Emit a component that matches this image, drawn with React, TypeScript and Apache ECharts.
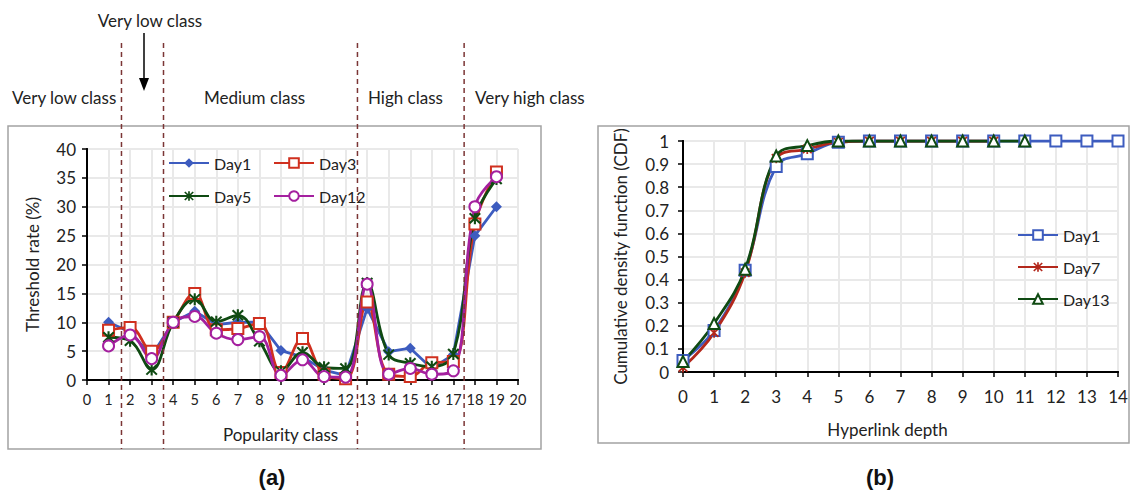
import React, { useEffect, useRef } from "react";
import * as echarts from "echarts";

// ---------- Data: chart (a) ----------
const popClasses = [1, 2, 3, 4, 5, 6, 7, 8, 9, 10, 11, 12, 13, 14, 15, 16, 17, 18, 19];
const day1A = [10, 8.3, 4.2, 10, 11.9, 9.6, 10, 10, 5.1, 4, 1.7, 0.8, 12.4, 4.9, 5.5, 2, 4.4, 25, 30];
const day3A = [8.6, 9.1, 5, 10, 15, 8.7, 8.9, 9.8, 1.3, 7.2, 1, 0.2, 13.5, 1, 0.6, 3, 3.2, 27, 36];
const day5A = [7.4, 6.8, 1.8, 10, 14, 10.1, 11.2, 6.7, 1.5, 4.8, 2.2, 2, 16.8, 4.4, 2.9, 2.3, 4.5, 28, 34.8];
const day12A = [5.9, 7.8, 3.7, 10, 11, 8.1, 7, 7.5, 0.8, 3.5, 0.6, 0.5, 16.6, 1, 2, 1, 1.6, 30, 35.2];
const classBoundaries = [1.6, 3.55, 12.55, 17.5];
const classLabels = ["Very low class", "Medium class", "High class", "Very high class"];
const classLabelX = [12, 204, 368, 475];

// ---------- Data: chart (b) ----------
const depthDay1 = [0, 1, 2, 3, 4, 5, 6, 7, 8, 9, 10, 11, 12, 13, 14];
const cdfDay1 = [0.05, 0.18, 0.44, 0.89, 0.945, 0.995, 1, 1, 1, 1, 1, 1, 1, 1, 1];
const depthDay7 = [0, 1, 2, 3, 4, 5, 6, 7, 8, 9, 10];
const cdfDay7 = [0.02, 0.17, 0.43, 0.925, 0.965, 0.995, 1, 1, 1, 1, 1];
const depthDay13 = [0, 1, 2, 3, 4, 5, 6, 7, 8, 9, 10, 11];
const cdfDay13 = [0.045, 0.21, 0.445, 0.935, 0.98, 1, 1, 1, 1, 1, 1, 1];

const FONT = "Lato";
const BLUE = "#3d5cbf";
const RED = "#d0301f";
const RED_B = "#b3281c";
const GREEN = "#0f4a12";
const PURPLE = "#a4209f";
const GRID_C = "#e9e9e9";
const SEP_C = "#7b3535";

const ASTERISK =
  "path://M5 0 L7 0 L7 12 L5 12 Z M0.3 1.7 L1.7 0.3 L11.7 10.3 L10.3 11.7 Z M10.3 0.3 L11.7 1.7 L1.7 11.7 L0.3 10.3 Z";

const pairs = (xs: number[], ys: number[]) => xs.map((x, i) => [x, ys[i]]);

export default function App() {
  const ref = useRef<HTMLDivElement>(null);
  useEffect(() => {
    document.body.style.margin = "0";
    const chart = echarts.init(ref.current!, null, { renderer: "svg" });

    const axisLineBlack = { show: true, lineStyle: { color: "#000", width: 2 } };
    const tickOut = { show: true, inside: false, length: 5, lineStyle: { color: "#000", width: 1.5 } };
    const split = { show: true, lineStyle: { color: GRID_C, width: 2 } };
    const hidden = {
      axisTick: { show: false },
      axisLabel: { show: false },
      splitLine: { show: false },
    };

    const legendBase = (name: string, left: number, top: number) => ({
      data: [name],
      left,
      top,
      itemWidth: 40,
      itemHeight: 12,
      itemGap: 4,
      textStyle: { fontFamily: FONT, fontSize: 16, color: "#222" },
    });

    const option: any = {
      animation: false,
      textStyle: { fontFamily: FONT },
      grid: [
        { left: 87, top: 149, width: 431, height: 231 },
        { left: 683, top: 141, width: 435, height: 231 },
      ],
      legend: [
        legendBase("Day1", 163, 150),
        legendBase("Day3", 268, 150),
        legendBase("Day5", 163, 183),
        legendBase("Day12", 268, 183),
        legendBase("Day1 ", 1012, 222),
        legendBase("Day7", 1012, 254),
        legendBase("Day13", 1012, 286),
      ],
      xAxis: [
        {
          gridIndex: 0, type: "value", min: 0, max: 20, interval: 1,
          axisLine: axisLineBlack, axisTick: tickOut,
          axisLabel: { fontFamily: FONT, fontSize: 14.5, color: "#222", margin: 12 },
          splitLine: split,
          name: "Popularity class", nameLocation: "middle", nameGap: 46,
          nameTextStyle: { fontFamily: FONT, fontSize: 17, color: "#222", padding: [0, 44, 0, 0] },
        },
        {
          gridIndex: 0, type: "value", min: 0, max: 20, position: "top",
          axisLine: { show: true, lineStyle: { color: "#000", width: 2, type: [12, 5] } },
          ...hidden,
        },
        {
          gridIndex: 1, type: "value", min: 0, max: 14, interval: 1,
          axisLine: axisLineBlack, axisTick: tickOut,
          axisLabel: { fontFamily: FONT, fontSize: 17, color: "#222", margin: 16 },
          splitLine: split,
          name: "Hyperlink depth", nameLocation: "middle", nameGap: 49,
          nameTextStyle: { fontFamily: FONT, fontSize: 17, color: "#222", padding: [0, 26, 0, 0] },
        },
        {
          gridIndex: 1, type: "value", min: 0, max: 14, position: "top",
          axisLine: axisLineBlack,
          ...hidden,
        },
      ],
      yAxis: [
        {
          gridIndex: 0, type: "value", min: 0, max: 40, interval: 5,
          axisLine: axisLineBlack, axisTick: tickOut,
          axisLabel: { fontFamily: FONT, fontSize: 17, color: "#222", margin: 11 },
          splitLine: split,
          name: "Threshold rate (%)", nameLocation: "middle", nameGap: 46,
          nameTextStyle: { fontFamily: FONT, fontSize: 17, color: "#222" },
        },
        {
          gridIndex: 0, type: "value", min: 0, max: 40, position: "right",
          axisLine: axisLineBlack,
          ...hidden,
        },
        {
          gridIndex: 1, type: "value", min: 0, max: 1, interval: 0.1,
          axisLine: axisLineBlack, axisTick: tickOut,
          axisLabel: { fontFamily: FONT, fontSize: 17, color: "#222", margin: 14 },
          splitLine: split,
          name: "Cumulative density function (CDF)", nameLocation: "middle", nameGap: 54,
          nameTextStyle: { fontFamily: FONT, fontSize: 17, color: "#222" },
        },
        {
          gridIndex: 1, type: "value", min: 0, max: 1, position: "right",
          axisLine: axisLineBlack,
          ...hidden,
        },
      ],
      series: [
        {
          name: "Day1", type: "line", xAxisIndex: 0, yAxisIndex: 0,
          data: pairs(popClasses, day1A), smooth: false,
          symbol: "diamond", symbolSize: 11,
          lineStyle: { color: BLUE, width: 2.8 }, itemStyle: { color: BLUE },
        },
        {
          name: "Day3", type: "line", xAxisIndex: 0, yAxisIndex: 0,
          data: pairs(popClasses, day3A), smooth: 0.4,
          symbol: "emptyRect", symbolSize: 11,
          lineStyle: { color: RED, width: 2.8 },
          itemStyle: { color: RED, borderColor: RED, borderWidth: 1.5 },
        },
        {
          name: "Day5", type: "line", xAxisIndex: 0, yAxisIndex: 0,
          data: pairs(popClasses, day5A), smooth: 0.4,
          symbol: ASTERISK, symbolSize: 12,
          lineStyle: { color: GREEN, width: 2.8 }, itemStyle: { color: GREEN },
        },
        {
          name: "Day12", type: "line", xAxisIndex: 0, yAxisIndex: 0,
          data: pairs(popClasses, day12A), smooth: 0.4,
          symbol: "emptyCircle", symbolSize: 11,
          lineStyle: { color: PURPLE, width: 2.8 },
          itemStyle: { color: PURPLE, borderColor: PURPLE, borderWidth: 1.5 },
        },
        {
          name: "Day1 ", type: "line", xAxisIndex: 2, yAxisIndex: 2,
          data: pairs(depthDay1, cdfDay1), smooth: 0.4,
          symbol: "emptyRect", symbolSize: 11,
          lineStyle: { color: BLUE, width: 2.8 },
          itemStyle: { color: BLUE, borderColor: BLUE, borderWidth: 1.5 },
        },
        {
          name: "Day7", type: "line", xAxisIndex: 2, yAxisIndex: 2,
          data: pairs(depthDay7, cdfDay7), smooth: 0.4,
          symbol: ASTERISK, symbolSize: 10,
          lineStyle: { color: RED_B, width: 2.8 }, itemStyle: { color: RED_B },
        },
        {
          name: "Day13", type: "line", xAxisIndex: 2, yAxisIndex: 2,
          data: pairs(depthDay13, cdfDay13), smooth: 0.4,
          symbol: "emptyTriangle", symbolSize: 11,
          lineStyle: { color: GREEN, width: 2.8 },
          itemStyle: { color: GREEN, borderColor: GREEN, borderWidth: 1.5 },
        },
      ],
    };
    chart.setOption(option);

    const sepX = classBoundaries.map((v) => chart.convertToPixel({ xAxisIndex: 0 }, v) as number);
    const txt = (text: string, x: number, y: number, extra: any = {}) => ({
      type: "text", x, y,
      style: {
        text, fontFamily: FONT, fontSize: 17, fill: "#222",
        verticalAlign: "middle", ...extra,
      },
    });
    const graphic: any[] = [
      { type: "rect", shape: { x: 8, y: 126, width: 533, height: 323 }, style: { fill: "none", stroke: "#a3a3a3", lineWidth: 1.5 }, z: -1 },
      { type: "rect", shape: { x: 598, y: 126, width: 531, height: 317 }, style: { fill: "none", stroke: "#a3a3a3", lineWidth: 1.5 }, z: -1 },
      ...sepX.map((x) => ({
        type: "line", shape: { x1: x, y1: 43, x2: x, y2: 449 },
        style: { stroke: SEP_C, lineWidth: 1.5, lineDash: [5, 4] }, z: 10,
      })),
      ...classLabels.map((t, i) => txt(t, classLabelX[i], 97)),
      txt("Very low class", 150, 20, { align: "center" }),
      { type: "line", shape: { x1: 144, y1: 33, x2: 144, y2: 82 }, style: { stroke: "#000", lineWidth: 1.5 } },
      { type: "polygon", shape: { points: [[139, 78], [149, 78], [144, 91]] }, style: { fill: "#000" } },
      txt("(a)", 272, 477, { align: "center", fontFamily: "Liberation Sans", fontWeight: "bold", fontSize: 22, fill: "#111" }),
      txt("(b)", 880, 477, { align: "center", fontFamily: "Liberation Sans", fontWeight: "bold", fontSize: 22, fill: "#111" }),
    ];
    chart.setOption({ graphic });

    return () => chart.dispose();
  }, []);
  return (
    <div
      ref={ref}
      style={{ position: "absolute", left: 0, top: 0, width: 1131, height: 491, background: "#fff" }}
    />
  );
}
